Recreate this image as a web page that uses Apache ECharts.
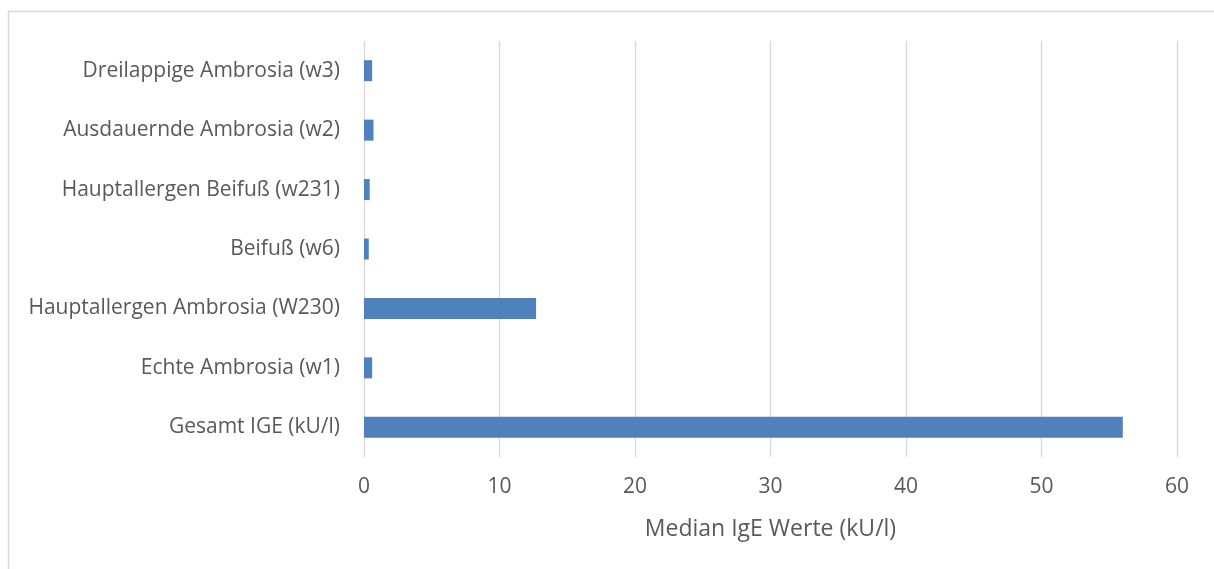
<!DOCTYPE html>
<html><head><meta charset="utf-8">
<script src="https://cdn.jsdelivr.net/npm/echarts@6/dist/echarts.min.js"></script>
<style>html,body{margin:0;padding:0;background:#fff}#c{width:1214px;height:569px}</style>
</head><body><div id="c"></div>
<script>
const categories = [
  "Gesamt IGE (kU/l)",
  "Echte Ambrosia (w1)",
  "Hauptallergen Ambrosia (W230)",
  "Beifuß (w6)",
  "Hauptallergen Beifuß (w231)",
  "Ausdauernde Ambrosia (w2)",
  "Dreilappige Ambrosia (w3)"
];
const values = [56.0, 0.6, 12.7, 0.35, 0.42, 0.7, 0.6];
const xTicks = { min: 0, max: 60, interval: 10 };
const xAxisTitle = "Median IgE Werte (kU/l)";

const chart = echarts.init(document.getElementById('c'), null, {renderer: 'canvas'});
const font = "'Open Sans', sans-serif";
chart.setOption({
  animation: false,
  backgroundColor: '#fff',
  graphic: [{
    type: 'rect', silent: true,
    shape: {x: 8.5, y: 11.5, width: 1220, height: 600},
    style: {fill: 'none', stroke: '#d9d9d9', lineWidth: 1.5}
  }],
  grid: {left: 364, right: 37, top: 41, bottom: 112, containLabel: false},
  xAxis: {
    type: 'value', min: xTicks.min, max: xTicks.max, interval: xTicks.interval,
    axisLine: {show: false}, axisTick: {show: false},
    splitLine: {show: true, lineStyle: {color: '#d9d9d9', width: 1.3}},
    axisLabel: {color: '#595959', fontSize: 21, fontFamily: font, margin: 20},
    name: xAxisTitle, nameLocation: 'middle', nameGap: 61,
    nameTextStyle: {color: '#595959', fontSize: 23, fontFamily: font}
  },
  yAxis: {
    type: 'category', data: categories,
    axisLine: {show: false}, axisTick: {show: false},
    splitLine: {show: false},
    axisLabel: {color: '#595959', fontSize: 21, fontFamily: font, margin: 24}
  },
  series: [{
    type: 'bar', data: values, barWidth: 21,
    itemStyle: {color: '#4f81bd'}
  }]
});
</script></body></html>
